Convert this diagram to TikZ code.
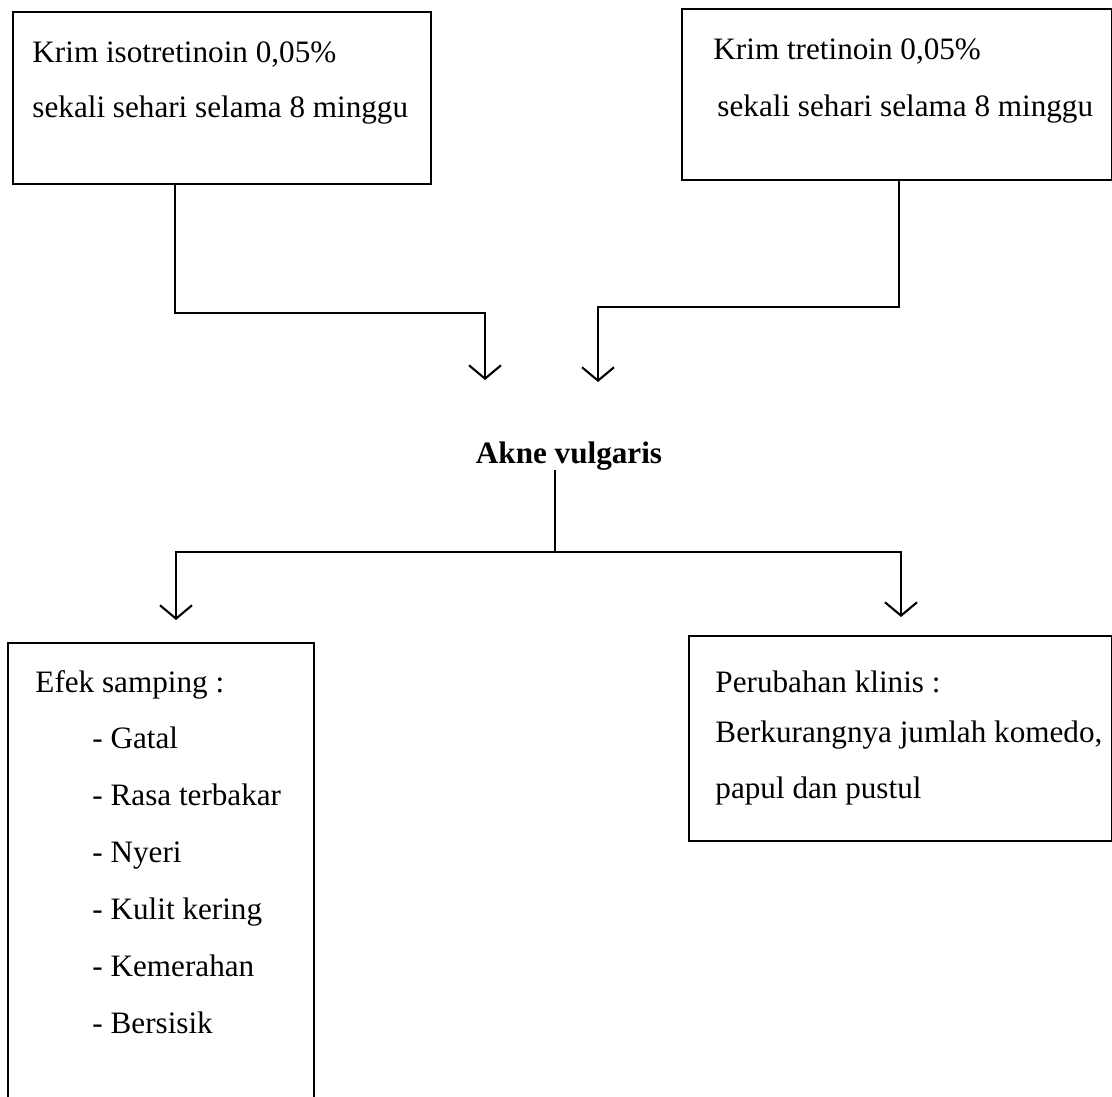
\documentclass[tikz,border=0pt]{standalone}
\usepackage{fontspec}
\setmainfont{Liberation Serif}
\usetikzlibrary{arrows.meta}
\tikzset{
  box/.style={draw, rectangle, line width=0.9pt, anchor=north west, inner sep=0pt},
  txt/.style={anchor=base west, inner sep=0pt, font=\fontsize{13.3}{16}\selectfont},
  link/.style={line width=0.9pt},
  arr/.style={link, -{Straight Barb[length=0.2cm, width=0.48cm]}}
}
\begin{document}
\begin{tikzpicture}[x=0.015cm, y=-0.015cm]
  \useasboundingbox (0,0) rectangle (1112,1097);
  % Boxes
  \node[box, minimum width=6.27cm, minimum height=2.58cm] (iso) at (12,11) {};
  \node[box, minimum width=6.45cm, minimum height=2.565cm] (tre) at (681,8) {};
  \node[box, minimum width=4.59cm, minimum height=6.9cm] (efek) at (7,642) {};
  \node[box, minimum width=6.345cm, minimum height=3.075cm] (klinis) at (688,635) {};
  % Texts
  \node[txt] (iso1) at (32,63) {Krim isotretinoin 0,05\%};
  \node[txt] (iso2) at (32,118) {sekali sehari selama 8 minggu};
  \node[txt] (tre1) at (713,60) {Krim tretinoin 0,05\%};
  \node[txt] (tre2) at (717,117) {sekali sehari selama 8 minggu};
  \node[txt, anchor=base, font=\fontsize{13.3}{16}\selectfont\bfseries] (akne) at (569,463) {Akne vulgaris};
  \node[txt] (efek0) at (35,692) {Efek samping :};
  \foreach \item [count=\i] in {Gatal, Rasa terbakar, Nyeri, Kulit kering, Kemerahan, Bersisik}
    \node[txt] (efek\i) at (92,691+57*\i) {- \item};
  \node[txt] (klinis1) at (715,692) {Perubahan klinis :};
  \node[txt] (klinis2) at (715,742) {Berkurangnya jumlah komedo,};
  \node[txt] (klinis3) at (715,798) {papul dan pustul};
  % Arrow ends
  \coordinate (tipL) at (485,380);
  \coordinate (tipR) at (598,382);
  \coordinate (split) at (555,552);
  \coordinate (tipE) at (176,620);
  \coordinate (tipK) at (901,617);
  % Draw the connectors
  \draw[arr] (iso.south -| 175,0) |- (tipL |- 0,313) -- (tipL);
  \draw[arr] (tre.south -| 899,0) |- (tipR |- 0,307) -- (tipR);
  \draw[link] (akne.south -| split) -- (split);
  \draw[arr] (split) -| (tipE);
  \draw[arr] (split) -| (tipK);
\end{tikzpicture}
\end{document}
